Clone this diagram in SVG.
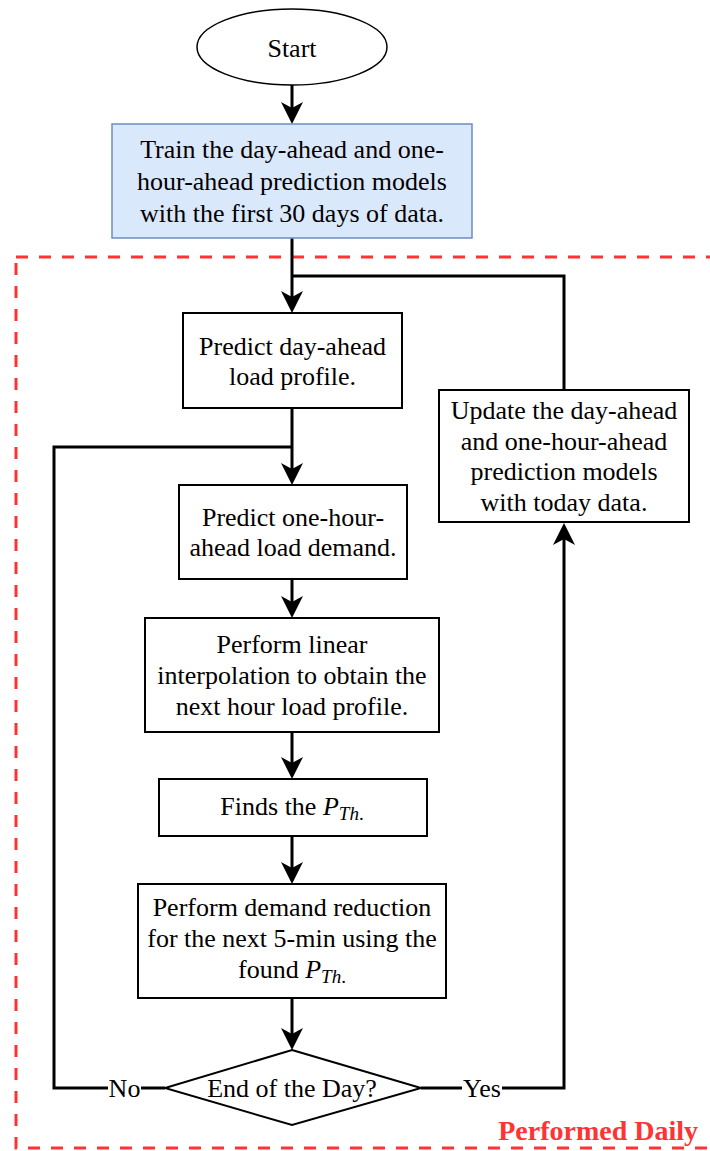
<svg xmlns="http://www.w3.org/2000/svg" width="710" height="1151" viewBox="0 0 710 1151">
  <style>
    .t { font-family: "Liberation Serif", "Times New Roman", serif; font-size: 26px; fill: #000; text-anchor: middle; }
    .box { fill: #fff; stroke: #000; stroke-width: 2; }
    .conn { fill: none; stroke: #000; stroke-width: 3; }
    .arrow { marker-end: url(#head); }
    .sub { font-size: 19px; font-style: italic; }
    .it { font-style: italic; }
    .zone { fill: none; stroke: #ff3333; stroke-width: 3; stroke-dasharray: 12 11; }
    .zone-label { font-family: "Liberation Serif", "Times New Roman", serif; font-size: 28px; font-weight: bold; fill: #ff3333; text-anchor: end; }
  </style>
  <defs>
    <marker id="head" markerUnits="userSpaceOnUse" markerWidth="24" markerHeight="24" viewBox="0 0 24 24" refX="16" refY="12" orient="auto">
      <path d="M24,12 L2,1 L8,12 L2,23 Z" fill="#000"/>
    </marker>
  </defs>

  <rect width="710" height="1151" fill="#fff"/>

  <!-- daily loop region -->
  <g id="daily-region">
    <rect class="zone" x="16" y="257" width="705" height="891"/>
    <text class="zone-label" x="698" y="1140">Performed Daily</text>
  </g>

  <!-- connectors -->
  <g id="connectors">
    <path class="conn arrow" d="M292,85 L292,116"/>
    <path class="conn arrow" d="M292,238 L292,305"/>
    <path class="conn" d="M564,390 L564,276 L292,276"/>
    <path class="conn arrow" d="M292,408 L292,477"/>
    <path class="conn" d="M165,1088 L54,1088 L54,447 L292,447"/>
    <path class="conn arrow" d="M292,579 L292,610"/>
    <path class="conn arrow" d="M292,732 L292,771"/>
    <path class="conn arrow" d="M292,836 L292,876"/>
    <path class="conn arrow" d="M292,998 L292,1042"/>
    <path class="conn arrow" d="M421,1088 L564,1088 L564,531"/>
    <g id="label-no">
      <rect x="108" y="1074" width="33" height="28" fill="#fff"/>
      <text class="t" x="124.5" y="1097">No</text>
    </g>
    <g id="label-yes">
      <rect x="462" y="1074" width="40" height="28" fill="#fff"/>
      <text class="t" x="482" y="1097">Yes</text>
    </g>
  </g>

  <g id="start">
    <ellipse cx="292" cy="47" rx="95" ry="38" fill="#fff" stroke="#000" stroke-width="1.5"/>
    <text class="t" x="292" y="57">Start</text>
  </g>

  <g id="train">
    <rect x="112" y="124" width="360" height="114" fill="#dae8fc" stroke="#6c8ebf" stroke-width="1.5"/>
    <text class="t" x="292" y="158">Train the day-ahead and one-</text>
    <text class="t" x="292" y="190">hour-ahead prediction models</text>
    <text class="t" x="292" y="222">with the first 30 days of data.</text>
  </g>

  <g id="predict-day">
    <rect class="box" x="183" y="313" width="219" height="95"/>
    <text class="t" x="292.5" y="355">Predict day-ahead</text>
    <text class="t" x="292.5" y="385">load profile.</text>
  </g>

  <g id="update-models">
    <rect class="box" x="439" y="390" width="250" height="132"/>
    <text class="t" x="564" y="419">Update the day-ahead</text>
    <text class="t" x="564" y="449.5">and one-hour-ahead</text>
    <text class="t" x="564" y="480">prediction models</text>
    <text class="t" x="564" y="510.5">with today data.</text>
  </g>

  <g id="predict-hour">
    <rect class="box" x="179" y="485" width="228" height="94"/>
    <text class="t" x="293" y="526">Predict one-hour-</text>
    <text class="t" x="293" y="556">ahead load demand.</text>
  </g>

  <g id="interpolate">
    <rect class="box" x="145" y="618" width="294" height="114"/>
    <text class="t" x="292" y="653">Perform linear</text>
    <text class="t" x="292" y="684">interpolation to obtain the</text>
    <text class="t" x="292" y="715">next hour load profile.</text>
  </g>

  <g id="find-threshold">
    <rect class="box" x="159" y="779" width="268" height="57"/>
    <text class="t" x="292" y="815">Finds the <tspan class="it">P</tspan><tspan class="sub" dy="5">Th</tspan><tspan font-size="19">.</tspan></text>
  </g>

  <g id="reduce-demand">
    <rect class="box" x="138" y="884" width="308" height="114"/>
    <text class="t" x="292" y="916">Perform demand reduction</text>
    <text class="t" x="292" y="947">for the next 5-min using the</text>
    <text class="t" x="292" y="978">found <tspan class="it">P</tspan><tspan class="sub" dy="5">Th</tspan><tspan font-size="19">.</tspan></text>
  </g>

  <g id="end-of-day">
    <polygon points="292,1050 421,1088 292,1125 165,1088" fill="#fff" stroke="#000" stroke-width="2"/>
    <text class="t" x="292" y="1097">End of the Day?</text>
  </g>
</svg>
